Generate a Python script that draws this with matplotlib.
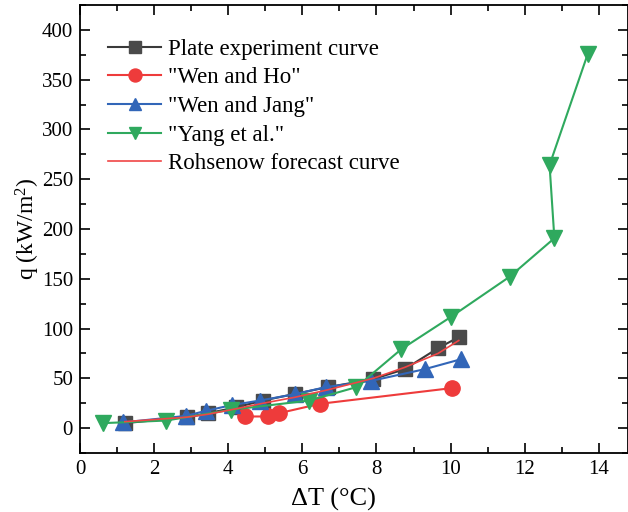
import matplotlib
matplotlib.use("Agg")
import matplotlib.pyplot as plt
from matplotlib.ticker import MultipleLocator

plt.rcParams['font.family'] = ['Liberation Serif', 'DejaVu Serif']
plt.rcParams['mathtext.fontset'] = 'custom'
plt.rcParams['mathtext.rm'] = 'Liberation Serif'
plt.rcParams['mathtext.it'] = 'Liberation Serif:italic'

# data
plate_x = [1.21, 2.88, 3.46, 4.22, 4.94, 5.80, 6.69, 7.91, 8.76, 9.66, 10.22]
plate_q = [5.0, 11.0, 15.0, 21.0, 27.7, 34.4, 41.2, 49.2, 59.2, 80.3, 91.4]

ho_x = [4.45, 5.08, 5.37, 6.47, 10.03]
ho_q = [11.7, 11.7, 15.0, 24.4, 40.2]

jang_x = [1.15, 2.86, 3.40, 4.09, 4.85, 5.80, 6.63, 7.86, 9.30, 10.29]
jang_q = [5.7, 12.3, 17.4, 23.1, 27.7, 34.1, 41.2, 47.5, 59.2, 69.3]

yang_x = [0.61, 2.32, 4.07, 6.18, 7.46, 8.67, 10.02, 11.59, 12.80, 12.67, 13.70]
yang_q = [5.0, 7.6, 18.4, 27.7, 41.2, 79.3, 112.0, 152.0, 190.8, 264.3, 375.8]

rohs_x = plate_x
rohs_q = [6.5, 11.0, 14.0, 19.5, 25.0, 31.0, 38.5, 50.0, 61.0, 75.0, 88.0]

fig = plt.figure(figsize=(6.28, 5.12), dpi=100)
ax = fig.add_axes([0.1274, 0.1152, 0.8722, 0.875])

ms = 10
ax.plot(plate_x, plate_q, color='#3a3a3a', lw=1.5, marker='s', ms=ms,
        mfc='#4a4a4a', mec='#4a4a4a', label='Plate experiment curve')
ax.plot(ho_x, ho_q, color='#ee3b3b', lw=1.5, marker='o', ms=ms + 1,
        mfc='#ee3b3b', mec='#ee3b3b', label='"Wen and Ho"')
ax.plot(jang_x, jang_q, color='#3266b8', lw=1.5, marker='^', ms=ms + 1,
        mfc='#3266b8', mec='#3266b8', label='"Wen and Jang"')
ax.plot(yang_x, yang_q, color='#2fa95e', lw=1.5, marker='v', ms=ms + 1,
        mfc='#2fa95e', mec='#2fa95e', label='"Yang et al."')
ax.plot(rohs_x, rohs_q, color='#f04545', lw=1.2, label='Rohsenow forecast curve')

ax.set_xlim(0, 14.78)
ax.set_ylim(-25, 425)
ax.xaxis.set_major_locator(MultipleLocator(2))
ax.xaxis.set_minor_locator(MultipleLocator(1))
ax.yaxis.set_major_locator(MultipleLocator(50))
ax.yaxis.set_minor_locator(MultipleLocator(25))
ax.tick_params(which='both', direction='in', top=True, right=True,
               labeltop=False, labelright=False, width=1.2, labelsize=15)
ax.tick_params(which='major', length=7, pad=5)
ax.tick_params(which='minor', length=4)
for s in ax.spines.values():
    s.set_linewidth(1.3)

ax.set_xlabel('ΔT (°C)', fontsize=19)
ax.set_ylabel(r'q (kW/m$^{2}$)', fontsize=17)
ax.xaxis.set_label_coords(0.462, -0.078)
ax.yaxis.set_label_coords(-0.070, 0.5)

ax.legend(loc='upper left', frameon=False, fontsize=16.5, handlelength=2.3,
          handletextpad=0.3, labelspacing=0.33, borderaxespad=0.0,
          markerscale=0.85, bbox_to_anchor=(0.035, 0.945))

fig.savefig('out.png', dpi=100)
